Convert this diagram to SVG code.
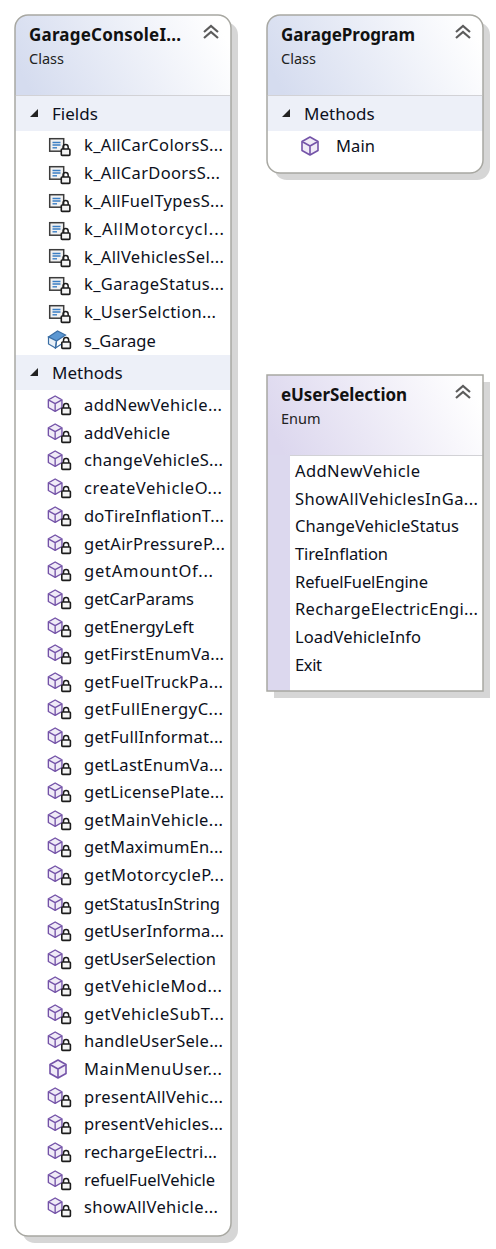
<svg xmlns="http://www.w3.org/2000/svg" xmlns:xlink="http://www.w3.org/1999/xlink" width="496" height="1249" viewBox="0 0 496 1249">
<style>
text{font-family:"Noto Sans","Open Sans","Liberation Sans",sans-serif;fill:#0c1020}
.t{font-size:17px;font-weight:700;fill:#111}
.s{font-size:14.500px;fill:#222}
.h{font-size:17px}
.r{font-size:16.500px}
.box{stroke:#a8a8a2;stroke-width:1.500}
.shadow{fill:#d6d6d6}
.band{fill:#edf0f8}
.sep{stroke:#d2d2d6;stroke-width:1}
.chev{fill:none;stroke:#5c5c5c;stroke-width:2.200}
.cube{fill:#f0ebf7;stroke:#7453a8;stroke-width:1.600;stroke-linejoin:round}
.lockb{fill:#f4f4f4;stroke:#1c1c1c;stroke-width:1.600}
.locks{fill:none;stroke:#1c1c1c;stroke-width:1.500}
</style>
<defs>
<linearGradient id="gc" x1="0" y1="0.6" x2="1" y2="0.4"><stop offset="0" stop-color="#d5dcef"/><stop offset="1" stop-color="#ffffff"/></linearGradient>
<linearGradient id="ge" x1="0" y1="0.6" x2="1" y2="0.4"><stop offset="0" stop-color="#dcd7ee"/><stop offset="1" stop-color="#ffffff"/></linearGradient>
<clipPath id="c1"><rect x="15" y="15" width="216" height="1221" rx="13"/></clipPath>
<clipPath id="c2"><rect x="267" y="15" width="216" height="158" rx="13"/></clipPath>
<g id="chev"><path class="chev" d="M0 6 L7 0 L14 6 M0 12 L7 6 L14 12"/></g>
<path id="tri" d="M8 0 V8 H0 Z" fill="#222"/>
<g id="lock"><path class="locks" d="M2.500 5 V3.200 a2.600 2.600 0 0 1 5.200 0 V5"/><rect class="lockb" x="0.800" y="5" width="8.600" height="6.400" rx="0.800"/></g>
<g id="cube"><path class="cube" d="M9 0 L17 4.500 V13.500 L9 18 L1 13.500 V4.500 Z"/><path class="cube" d="M1 4.500 L9 9 L17 4.500 M9 9 V18"/></g>
<g id="field"><rect x="0.700" y="0.700" width="14" height="12.500" fill="#f2f2f2" stroke="#3c3c3c" stroke-width="1.500"/><path d="M3.500 4.500 H11.500 M3.500 7 H11.500" stroke="#3a7ec4" stroke-width="1.400"/><path d="M3.500 9.800 H8" stroke="#3a7ec4" stroke-width="1.400"/><use xlink:href="#lock" href="#lock" x="11.500" y="6"/></g>
<g id="method"><g transform="scale(.85)"><use href="#cube" xlink:href="#cube"/></g><use xlink:href="#lock" href="#lock" x="13.500" y="7"/></g>
<g id="sfield"><path d="M1 7 L10 1 L18 5 L9 11 Z" fill="#5b97d2" stroke="#3a6ea5" stroke-width="1.200"/><path d="M1 7 V14 L8 18 L9 11 Z" fill="#e8f0f8" stroke="#3a6ea5" stroke-width="1.200"/><path d="M9 11 L8 18 L14 14" fill="none" stroke="#3a6ea5" stroke-width="1.200"/><use xlink:href="#lock" href="#lock" x="13.500" y="7"/></g>
</defs>
<g id="connectors"/>
<g id="GarageConsoleInterface">
<rect class="shadow" x="22" y="22" width="216" height="1221" rx="13"/>
<rect x="15" y="15" width="216" height="1221" rx="13" fill="#fff"/>
<g clip-path="url(#c1)"><rect x="15" y="15" width="216" height="80" fill="url(#gc)"/>
<rect class="band" x="15" y="96" width="216" height="35"/>
<rect class="band" x="15" y="355" width="216" height="35"/></g>
<line class="sep" x1="16" x2="230" y1="95.500" y2="95.500"/>
<rect class="box" x="15" y="15" width="216" height="1221" rx="13" fill="none"/>
<text class="t" x="29" y="41" textLength="152">GarageConsoleI...</text>
<text class="s" x="29" y="64">Class</text>
<use href="#chev" xlink:href="#chev" x="204" y="26"/>
<use href="#tri" xlink:href="#tri" x="30" y="109"/>
<text class="h" x="52" y="120">Fields</text>
<use href="#field" xlink:href="#field" x="49" y="138"/><text class="r" x="84" y="151" textLength="139">k_AllCarColorsS...</text>
<use href="#field" xlink:href="#field" x="49" y="166"/><text class="r" x="84" y="179" textLength="136">k_AllCarDoorsS...</text>
<use href="#field" xlink:href="#field" x="49" y="194"/><text class="r" x="84" y="207" textLength="140">k_AllFuelTypesS...</text>
<use href="#field" xlink:href="#field" x="49" y="222"/><text class="r" x="84" y="235" textLength="140">k_AllMotorcycl...</text>
<use href="#field" xlink:href="#field" x="49" y="249"/><text class="r" x="84" y="263" textLength="140">k_AllVehiclesSel...</text>
<use href="#field" xlink:href="#field" x="49" y="277"/><text class="r" x="84" y="290" textLength="140">k_GarageStatus...</text>
<use href="#field" xlink:href="#field" x="49" y="305"/><text class="r" x="84" y="318" textLength="132">k_UserSelction...</text>
<use href="#sfield" xlink:href="#sfield" x="47.500" y="330"/><text class="r" x="84" y="347">s_Garage</text>
<use href="#tri" xlink:href="#tri" x="30" y="368"/>
<text class="h" x="52" y="379">Methods</text>
<use href="#method" xlink:href="#method" x="47.500" y="396"/><text class="r" x="84" y="411" textLength="138">addNewVehicle...</text>
<use href="#method" xlink:href="#method" x="47.500" y="424"/><text class="r" x="84" y="439" textLength="86">addVehicle</text>
<use href="#method" xlink:href="#method" x="47.500" y="451"/><text class="r" x="84" y="466" textLength="139">changeVehicleS...</text>
<use href="#method" xlink:href="#method" x="47.500" y="479"/><text class="r" x="84" y="494" textLength="138">createVehicleO...</text>
<use href="#method" xlink:href="#method" x="47.500" y="507"/><text class="r" x="84" y="522" textLength="140">doTireInflationT...</text>
<use href="#method" xlink:href="#method" x="47.500" y="535"/><text class="r" x="84" y="550" textLength="141">getAirPressureP...</text>
<use href="#method" xlink:href="#method" x="47.500" y="562"/><text class="r" x="84" y="577" textLength="129">getAmountOf...</text>
<use href="#method" xlink:href="#method" x="47.500" y="590"/><text class="r" x="84" y="605" textLength="110">getCarParams</text>
<use href="#method" xlink:href="#method" x="47.500" y="618"/><text class="r" x="84" y="633" textLength="110">getEnergyLeft</text>
<use href="#method" xlink:href="#method" x="47.500" y="645"/><text class="r" x="84" y="660" textLength="140">getFirstEnumVa...</text>
<use href="#method" xlink:href="#method" x="47.500" y="673"/><text class="r" x="84" y="688" textLength="139">getFuelTruckPa...</text>
<use href="#method" xlink:href="#method" x="47.500" y="700"/><text class="r" x="84" y="715" textLength="139">getFullEnergyC...</text>
<use href="#method" xlink:href="#method" x="47.500" y="728"/><text class="r" x="84" y="743" textLength="139">getFullInformat...</text>
<use href="#method" xlink:href="#method" x="47.500" y="756"/><text class="r" x="84" y="771" textLength="139">getLastEnumVa...</text>
<use href="#method" xlink:href="#method" x="47.500" y="783"/><text class="r" x="84" y="798" textLength="140">getLicensePlate...</text>
<use href="#method" xlink:href="#method" x="47.500" y="811"/><text class="r" x="84" y="826" textLength="139">getMainVehicle...</text>
<use href="#method" xlink:href="#method" x="47.500" y="838"/><text class="r" x="84" y="853" textLength="139">getMaximumEn...</text>
<use href="#method" xlink:href="#method" x="47.500" y="866"/><text class="r" x="84" y="881" textLength="140">getMotorcycleP...</text>
<use href="#method" xlink:href="#method" x="47.500" y="895"/><text class="r" x="84" y="910" textLength="136">getStatusInString</text>
<use href="#method" xlink:href="#method" x="47.500" y="922"/><text class="r" x="84" y="937" textLength="140">getUserInforma...</text>
<use href="#method" xlink:href="#method" x="47.500" y="950"/><text class="r" x="84" y="965" textLength="132">getUserSelection</text>
<use href="#method" xlink:href="#method" x="47.500" y="977"/><text class="r" x="84" y="992" textLength="138">getVehicleMod...</text>
<use href="#method" xlink:href="#method" x="47.500" y="1005"/><text class="r" x="84" y="1020" textLength="140">getVehicleSubT...</text>
<use href="#method" xlink:href="#method" x="47.500" y="1032"/><text class="r" x="84" y="1047" textLength="139">handleUserSele...</text>
<use href="#cube" xlink:href="#cube" x="49" y="1060"/><text class="r" x="84" y="1075" textLength="138">MainMenuUser...</text>
<use href="#method" xlink:href="#method" x="47.500" y="1088"/><text class="r" x="84" y="1103" textLength="139">presentAllVehic...</text>
<use href="#method" xlink:href="#method" x="47.500" y="1115"/><text class="r" x="84" y="1130" textLength="139">presentVehicles...</text>
<use href="#method" xlink:href="#method" x="47.500" y="1143"/><text class="r" x="84" y="1158" textLength="133">rechargeElectri...</text>
<use href="#method" xlink:href="#method" x="47.500" y="1171"/><text class="r" x="84" y="1186" textLength="131">refuelFuelVehicle</text>
<use href="#method" xlink:href="#method" x="47.500" y="1198"/><text class="r" x="84" y="1213" textLength="134">showAllVehicle...</text>
</g>
<g id="GarageProgram">
<rect class="shadow" x="274" y="22" width="216" height="158" rx="13"/>
<rect x="267" y="15" width="216" height="158" rx="13" fill="#fff"/>
<g clip-path="url(#c2)"><rect x="267" y="15" width="216" height="80" fill="url(#gc)"/>
<rect class="band" x="267" y="96" width="216" height="35"/></g>
<line class="sep" x1="268" x2="482" y1="95.500" y2="95.500"/>
<rect class="box" x="267" y="15" width="216" height="158" rx="13" fill="none"/>
<text class="t" x="281" y="41" textLength="134">GarageProgram</text>
<text class="s" x="281" y="64">Class</text>
<use href="#chev" xlink:href="#chev" x="456" y="26"/>
<use href="#tri" xlink:href="#tri" x="282" y="109"/>
<text class="h" x="304" y="120">Methods</text>
<use href="#cube" xlink:href="#cube" x="301" y="137"/><text class="r" x="336" y="152" textLength="39">Main</text>
</g>
<g id="eUserSelection">
<rect class="shadow" x="274" y="382" width="216" height="316"/>
<rect x="267" y="375" width="216" height="316" fill="#dcd8ee"/>
<rect x="267" y="375" width="216" height="80" fill="url(#ge)"/>
<rect x="290" y="456" width="193" height="235" fill="#fff"/>
<line class="sep" x1="290" x2="482" y1="455.500" y2="455.500"/>
<rect class="box" x="267" y="375" width="216" height="316" fill="none"/>
<text class="t" x="281" y="401" textLength="126">eUserSelection</text>
<text class="s" x="281" y="424">Enum</text>
<use href="#chev" xlink:href="#chev" x="456" y="386"/>
<text class="r" x="295" y="477" textLength="125">AddNewVehicle</text>
<text class="r" x="295" y="505" textLength="183">ShowAllVehiclesInGa...</text>
<text class="r" x="295" y="532" textLength="164">ChangeVehicleStatus</text>
<text class="r" x="295" y="560" textLength="93">TireInflation</text>
<text class="r" x="295" y="588" textLength="133">RefuelFuelEngine</text>
<text class="r" x="295" y="615" textLength="183">RechargeElectricEngi...</text>
<text class="r" x="295" y="643" textLength="126">LoadVehicleInfo</text>
<text class="r" x="295" y="671" textLength="27">Exit</text>
</g>
</svg>
